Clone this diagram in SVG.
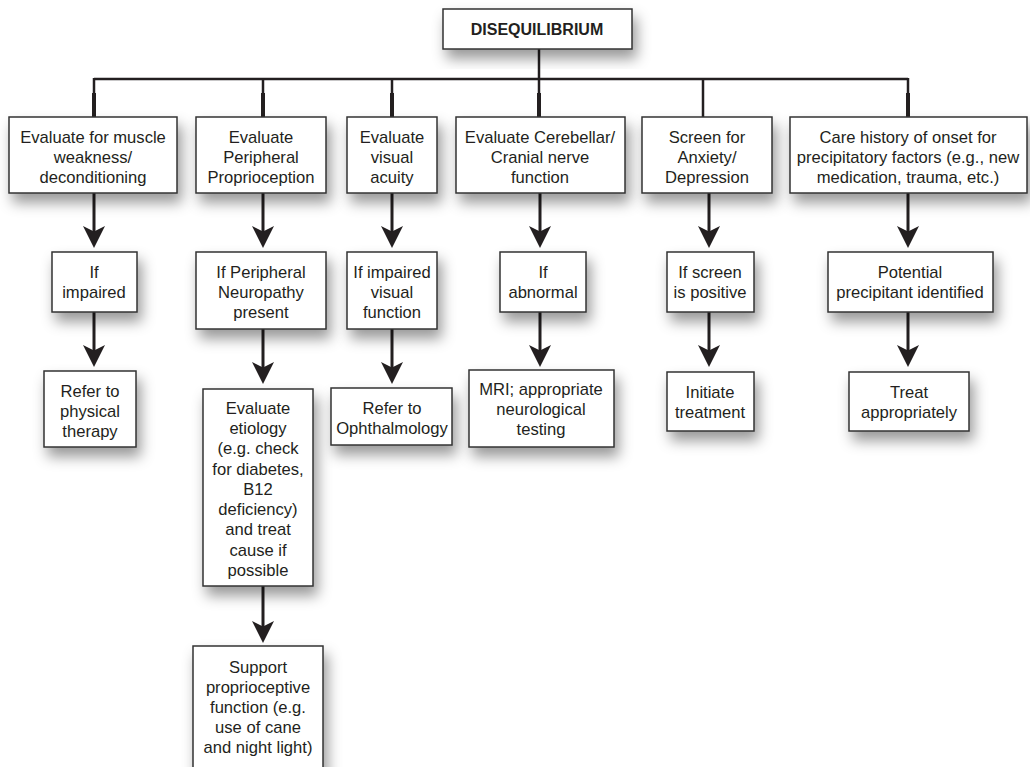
<svg xmlns="http://www.w3.org/2000/svg" width="1030" height="767" viewBox="0 0 1030 767">
<defs>
<filter id="sh" x="-30%" y="-30%" width="160%" height="180%">
<feDropShadow dx="4" dy="9" stdDeviation="7" flood-color="#000" flood-opacity="0.4"/>
</filter>
<marker id="ah" markerUnits="userSpaceOnUse" markerWidth="22" markerHeight="22" viewBox="0 0 20 20" refX="10" refY="10" orient="auto">
<path d="M0,0 L20,10 L0,20 L5,10 Z" fill="#231f20"/>
</marker>
<style>
.b{fill:#fff;stroke:#333;stroke-width:1.5;filter:url(#sh)}
.t{font-family:"Liberation Sans",Arial,sans-serif;font-size:16.6px;fill:#231f20;text-anchor:middle}
.tb{font-family:"Liberation Sans",Arial,sans-serif;font-size:16px;font-weight:bold;fill:#231f20;text-anchor:middle}
.ln{stroke:#231f20;stroke-width:2.5;fill:none}
.dk{stroke:#231f20;stroke-width:4;fill:none}
.ar{stroke:#231f20;stroke-width:3;fill:none;marker-end:url(#ah)}
</style>
</defs>
<rect width="1030" height="767" fill="#fff"/>
<g id="connectors">
<line class="ln" x1="539" y1="49" x2="539" y2="117"/>
<line class="ln" x1="94" y1="79" x2="908" y2="79"/>
<line class="ln" x1="94" y1="78" x2="94" y2="117"/>
<line class="ln" x1="263" y1="79" x2="263" y2="117"/>
<line class="ln" x1="392" y1="79" x2="392" y2="117"/>
<line class="ln" x1="703" y1="79" x2="703" y2="117"/>
<line class="ln" x1="908" y1="78" x2="908" y2="117"/>
<line class="dk" x1="94" y1="93" x2="94" y2="117"/>
<line class="dk" x1="263" y1="93" x2="263" y2="117"/>
<line class="dk" x1="392" y1="93" x2="392" y2="117"/>
<line class="dk" x1="539" y1="93" x2="539" y2="117"/>
<line class="dk" x1="908" y1="93" x2="908" y2="117"/>
<line class="ar" x1="94" y1="193" x2="94" y2="237"/>
<line class="ar" x1="263" y1="193" x2="263" y2="237"/>
<line class="ar" x1="392" y1="193" x2="392" y2="237"/>
<line class="ar" x1="540" y1="193" x2="540" y2="237"/>
<line class="ar" x1="709" y1="193" x2="709" y2="237"/>
<line class="ar" x1="908" y1="193" x2="908" y2="237"/>
<line class="ar" x1="94" y1="312" x2="94" y2="356"/>
<line class="ar" x1="263" y1="329" x2="263" y2="373"/>
<line class="ar" x1="392" y1="329" x2="392" y2="373"/>
<line class="ar" x1="540" y1="312" x2="540" y2="356"/>
<line class="ar" x1="709" y1="312" x2="709" y2="356"/>
<line class="ar" x1="908" y1="312" x2="908" y2="356"/>
<line class="ar" x1="263" y1="586" x2="263" y2="632"/>
</g>
<g id="n0"><rect class="b" x="443" y="9" width="189" height="40"/><text class="tb" x="537" y="35">DISEQUILIBRIUM</text></g>
<g id="n1"><rect class="b" x="9" y="117" width="168" height="76"/><text class="t" x="93" y="143">Evaluate for muscle</text><text class="t" x="93" y="163">weakness/</text><text class="t" x="93" y="183">deconditioning</text></g>
<g id="n2"><rect class="b" x="196" y="117" width="130" height="76"/><text class="t" x="261" y="143">Evaluate</text><text class="t" x="261" y="163">Peripheral</text><text class="t" x="261" y="183">Proprioception</text></g>
<g id="n3"><rect class="b" x="347" y="117" width="90" height="76"/><text class="t" x="392" y="143">Evaluate</text><text class="t" x="392" y="163">visual</text><text class="t" x="392" y="183">acuity</text></g>
<g id="n4"><rect class="b" x="456" y="117" width="169" height="76"/><text class="t" x="540" y="143">Evaluate Cerebellar/</text><text class="t" x="540" y="163">Cranial nerve</text><text class="t" x="540" y="183">function</text></g>
<g id="n5"><rect class="b" x="642" y="117" width="130" height="76"/><text class="t" x="707" y="143">Screen for</text><text class="t" x="707" y="163">Anxiety/</text><text class="t" x="707" y="183">Depression</text></g>
<g id="n6"><rect class="b" x="790" y="117" width="237" height="76"/><text class="t" x="908" y="143">Care history of onset for</text><text class="t" x="908" y="163">precipitatory factors (e.g., new</text><text class="t" x="908" y="183">medication, trauma, etc.)</text></g>
<g id="n7"><rect class="b" x="52" y="252" width="85" height="60"/><text class="t" x="94" y="278">If</text><text class="t" x="94" y="298">impaired</text></g>
<g id="n8"><rect class="b" x="196" y="252" width="130" height="77"/><text class="t" x="261" y="278">If Peripheral</text><text class="t" x="261" y="298">Neuropathy</text><text class="t" x="261" y="318">present</text></g>
<g id="n9"><rect class="b" x="347" y="252" width="90" height="77"/><text class="t" x="392" y="278">If impaired</text><text class="t" x="392" y="298">visual</text><text class="t" x="392" y="318">function</text></g>
<g id="n10"><rect class="b" x="500" y="252" width="86" height="60"/><text class="t" x="543" y="278">If</text><text class="t" x="543" y="298">abnormal</text></g>
<g id="n11"><rect class="b" x="667" y="252" width="87" height="60"/><text class="t" x="710" y="278">If screen</text><text class="t" x="710" y="298">is positive</text></g>
<g id="n12"><rect class="b" x="828" y="252" width="165" height="60"/><text class="t" x="910" y="278">Potential</text><text class="t" x="910" y="298">precipitant identified</text></g>
<g id="n13"><rect class="b" x="44" y="371" width="92" height="76"/><text class="t" x="90" y="397">Refer to</text><text class="t" x="90" y="417">physical</text><text class="t" x="90" y="437">therapy</text></g>
<g id="n14"><rect class="b" x="203" y="389" width="110" height="197"/><text class="t" x="258" y="414">Evaluate</text><text class="t" x="258" y="434">etiology</text><text class="t" x="258" y="454">(e.g. check</text><text class="t" x="258" y="475">for diabetes,</text><text class="t" x="258" y="495">B12</text><text class="t" x="258" y="515">deficiency)</text><text class="t" x="258" y="535">and treat</text><text class="t" x="258" y="556">cause if</text><text class="t" x="258" y="576">possible</text></g>
<g id="n15"><rect class="b" x="331" y="388" width="121" height="57"/><text class="t" x="392" y="414">Refer to</text><text class="t" x="392" y="434">Ophthalmology</text></g>
<g id="n16"><rect class="b" x="469" y="370" width="145" height="77"/><text class="t" x="541" y="395">MRI; appropriate</text><text class="t" x="541" y="415">neurological</text><text class="t" x="541" y="435">testing</text></g>
<g id="n17"><rect class="b" x="667" y="372" width="87" height="59"/><text class="t" x="710" y="398">Initiate</text><text class="t" x="710" y="418">treatment</text></g>
<g id="n18"><rect class="b" x="849" y="372" width="120" height="59"/><text class="t" x="909" y="398">Treat</text><text class="t" x="909" y="418">appropriately</text></g>
<g id="n19"><rect class="b" x="193" y="646" width="130" height="130"/><text class="t" x="258" y="673">Support</text><text class="t" x="258" y="693">proprioceptive</text><text class="t" x="258" y="713">function (e.g.</text><text class="t" x="258" y="733">use of cane</text><text class="t" x="258" y="753">and night light)</text></g>
</svg>
